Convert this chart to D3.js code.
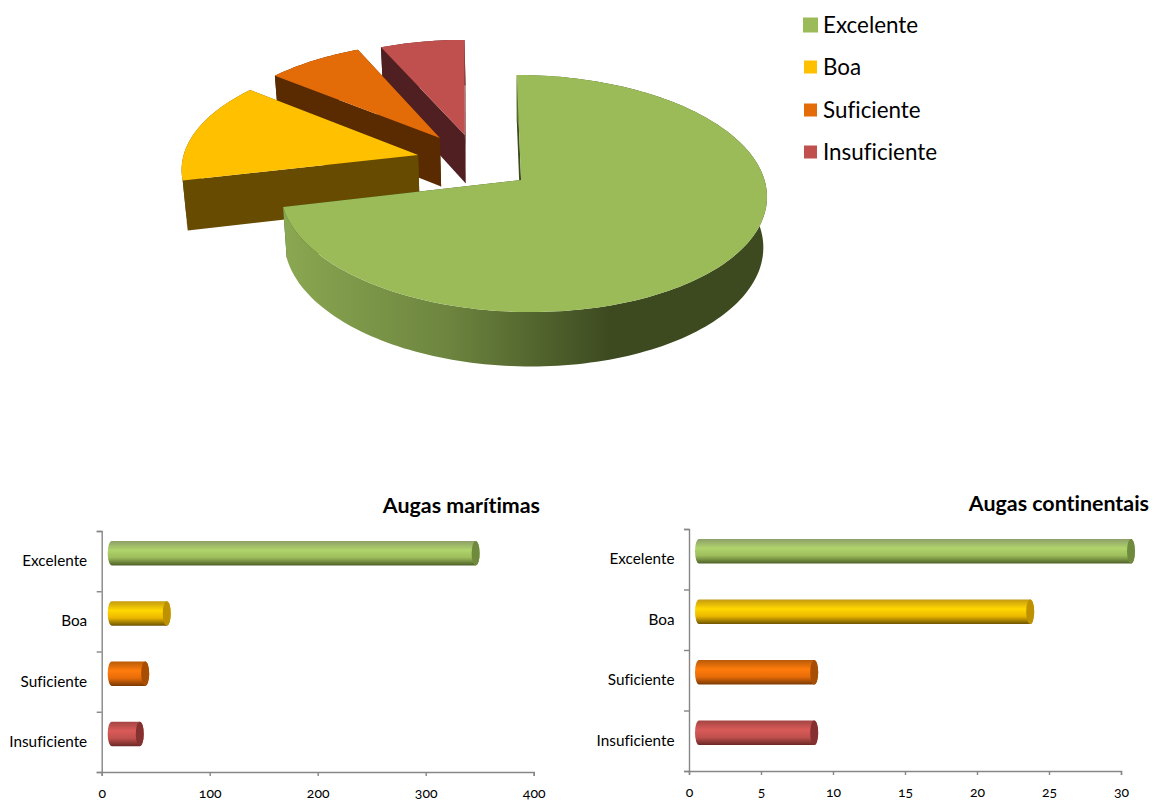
<!DOCTYPE html>
<html>
<head>
<meta charset="utf-8">
<script src="https://cdn.jsdelivr.net/npm/d3@7"></script>
<style>
  html, body { margin: 0; padding: 0; background: #fff; }
  svg { display: block; }
  text { font-family: Lato, "Open Sans", sans-serif; fill: #000; font-variant-ligatures: none; }
  .tick text { font-size: 15.3px; }
  .xaxis .tick text { font-size: 14px; font-feature-settings: "onum"; }
  .title { font-size: 21.4px; font-weight: 700; }
  .legend text { font-size: 22.4px; }
</style>
</head>
<body>
<svg id="chart" width="1153" height="801"></svg>
<script>
// values
const categories = ['Excelente', 'Boa', 'Suficiente', 'Insuficiente'];
const totals = [367, 74, 39, 34];
const maritimas = [337, 51, 31, 26];
const continentais = [30, 23, 8, 8];
const maritimasTicks = [0, 100, 200, 300, 400];
const continentaisTicks = [0, 5, 10, 15, 20, 25, 30];

const topColors = ['#9bbb59', '#ffc000', '#e36c09', '#c0504d'];
const wallColors = ['#3d4a20', '#664b00', '#5a2a00', '#4f1f22'];
const capColors = ['#6f8a3d', '#bd9100', '#a84e04', '#85312f'];
const barStops = [
  ['#8d9f68', '#b0d46c', '#9dbd5b', '#4f6128'],
  ['#c49a10', '#ffd800', '#ecb800', '#6e5500'],
  ['#b85a08', '#ff7c0c', '#e86c08', '#7a3a04'],
  ['#a34543', '#d95b58', '#c0504d', '#6b2927']
];

const svg = d3.select('#chart');
const defs = svg.append('defs');

// pie in perspective: u right, v away from the viewer, radius 1
const pieBox = { cx: 523, cy: 180, rx: 241.5, ry: 117, persp: 0.114, shear: 7, depth: 50, shrink: 0.985 };
const centres = [[0, 0], [-0.439, 0.219], [-0.348, 0.374], [-0.24, 0.402]];
const apexes = [[-0.008, 0], [-0.439, 0.219], [-0.348, 0.374], [-0.24, 0.402]];
const radius = [1, 0.995, 0.985, 0.985];

function project(u, v, low) {
  const w = 1 + pieBox.persp * v;
  const x = (pieBox.rx * u - pieBox.shear * v) / w, y = -pieBox.ry * v / w;
  if (!low) return [pieBox.cx + x, pieBox.cy + y];
  return [pieBox.cx + x * pieBox.shrink, pieBox.cy + y * pieBox.shrink + pieBox.depth / w];
}

const slices = d3.pie().sort(null)(totals);
const outline = d3.line();

function arcPoints(d, i, low) {
  const n = Math.max(8, Math.ceil((d.endAngle - d.startAngle) * 40));
  return d3.range(n + 1).map(k => {
    const a = d.startAngle + (d.endAngle - d.startAngle) * k / n;
    return project(centres[i][0] + radius[i] * Math.sin(a), centres[i][1] + radius[i] * Math.cos(a), low);
  });
}

const sideGrad = defs.append('linearGradient').attr('id', 'greenSide')
  .attr('gradientUnits', 'userSpaceOnUse')
  .attr('x1', 285).attr('x2', 610).attr('y1', 0).attr('y2', 0);
sideGrad.append('stop').attr('offset', 0).attr('stop-color', '#8aa751');
sideGrad.append('stop').attr('offset', 0.5).attr('stop-color', '#6d853f');
sideGrad.append('stop').attr('offset', 1).attr('stop-color', '#3d4a20');

const pieG = svg.append('g');
// back to front so nearer slices cover the further ones
[3, 2, 1, 0].forEach(i => {
  const d = slices[i], off = apexes[i];
  const topArc = arcPoints(d, i, false), lowArc = arcPoints(d, i, true);
  const apexTop = project(off[0], off[1], false), apexLow = project(off[0], off[1], true);
  const g = pieG.append('g');
  // radial walls
  g.append('path').attr('fill', wallColors[i])
    .attr('d', outline([apexTop, topArc[0], lowArc[0], apexLow]) + 'Z');
  g.append('path').attr('fill', wallColors[i])
    .attr('d', outline([apexTop, topArc[topArc.length - 1], lowArc[lowArc.length - 1], apexLow]) + 'Z');
  // rim
  g.append('path').attr('fill', i === 0 ? 'url(#greenSide)' : wallColors[i])
    .attr('d', outline(topArc.concat(lowArc.slice().reverse())) + 'Z');
  // top face
  g.append('path').attr('fill', topColors[i])
    .attr('d', outline([apexTop].concat(topArc)) + 'Z');
});

// legend
const legendY = [25, 67, 110, 152];
const legend = svg.append('g').attr('class', 'legend');
categories.forEach((c, i) => {
  const size = i === 0 ? 15 : 13;
  legend.append('rect')
    .attr('x', 810.5 - size / 2).attr('y', legendY[i] - size / 2)
    .attr('width', size).attr('height', size)
    .attr('fill', topColors[i]);
  legend.append('text').attr('x', 823).attr('y', legendY[i] - 1)
    .attr('dominant-baseline', 'central').text(c);
});

// one gradient per colour for the cylinders
barStops.forEach((stops, i) => {
  const g = defs.append('linearGradient').attr('id', 'bar' + i)
    .attr('x1', 0).attr('x2', 0).attr('y1', 0).attr('y2', 1);
  [0, 0.38, 0.68, 1].forEach((o, k) => {
    g.append('stop').attr('offset', o).attr('stop-color', stops[k]);
  });
});

function barChart(cfg) {
  const x = d3.scaleLinear().domain(cfg.domain).range([cfg.left, cfg.right]);
  const y = d3.scaleBand().domain(categories).range([cfg.top, cfg.bottom]).padding(0);
  const edges = d3.scaleLinear().domain([0, categories.length]).range([cfg.top, cfg.bottom]);
  const barH = 24.5, rx = 4, dx = 10, dy = -8;

  // category labels sit on the band centres, tick marks on the band edges
  const labels = svg.append('g').attr('transform', `translate(${cfg.left},0)`)
    .call(d3.axisLeft(y).tickSize(0).tickPadding(14.5));
  labels.select('.domain').remove();

  const yAxis = svg.append('g').attr('transform', `translate(${cfg.left},0)`)
    .call(d3.axisLeft(edges).ticks(categories.length).tickSize(5).tickSizeOuter(5).tickFormat(''));
  const xAxis = svg.append('g').attr('class', 'xaxis').attr('transform', `translate(0,${cfg.bottom})`)
    .call(d3.axisBottom(x).tickValues(cfg.ticks).tickSize(4).tickSizeOuter(4).tickPadding(12));
  [yAxis, xAxis].forEach(a => {
    a.selectAll('.domain, .tick line').attr('stroke', '#868686').attr('stroke-width', 1.4);
  });

  cfg.values.forEach((v, i) => {
    const c = categories[i];
    const x0 = x(0) + dx, x1 = x(v) + dx;
    const yc = y(c) + y.bandwidth() / 2 + dy, ry = barH / 2;
    svg.append('path').attr('fill', `url(#bar${i})`)
      .attr('d', `M${x0},${yc - ry}L${x1},${yc - ry}A${rx},${ry} 0 0 1 ${x1},${yc + ry}L${x0},${yc + ry}A${rx},${ry} 0 0 1 ${x0},${yc - ry}Z`);
    svg.append('ellipse').attr('cx', x1).attr('cy', yc).attr('rx', rx).attr('ry', ry)
      .attr('fill', capColors[i]);
  });

  svg.append('text').attr('class', 'title')
    .attr('x', cfg.titleX).attr('y', cfg.titleY)
    .attr('text-anchor', 'end').attr('dominant-baseline', 'central').text(cfg.title);
}

barChart({
  title: 'Augas marítimas', titleX: 540, titleY: 505,
  values: maritimas, domain: [0, 400], ticks: maritimasTicks,
  left: 101.7, right: 533.7, top: 531, bottom: 772
});
barChart({
  title: 'Augas continentais', titleX: 1149, titleY: 503,
  values: continentais, domain: [0, 30], ticks: continentaisTicks,
  left: 689, right: 1121, top: 529, bottom: 771
});
</script>
</body>
</html>
